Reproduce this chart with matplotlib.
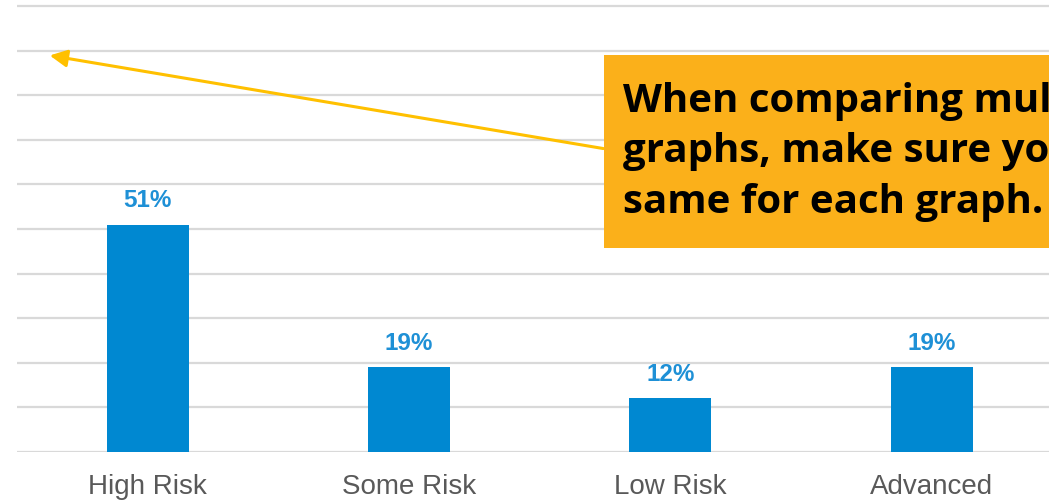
import numpy as np
import matplotlib.pyplot as plt
from matplotlib.patches import Rectangle, FancyArrowPatch

categories = ["High Risk", "Some Risk", "Low Risk", "Advanced"]
values = [51, 19, 12, 19]
note_lines = ["When comparing multiple",
              "graphs, make sure your scale is the",
              "same for each graph."]

W, H = 1049, 502
fig = plt.figure(figsize=(W / 100, H / 100), dpi=100)

# axes placed so that 0% sits on pixel row 453 and 10% steps are ~44.6 px
px_per_unit = 4.46
ymax = 102
base_px = 453
ax = fig.add_axes([17 / W, (H - base_px) / H, 1 - 17 / W, ymax * px_per_unit / H])

x = np.arange(len(categories))
ax.bar(x, values, width=0.314, color="#0088D1", zorder=3)
for xi, v in zip(x, values):
    ax.text(xi, v + 4.1, f"{v}%", ha="center", va="baseline",
            fontsize=17.5, fontweight="bold", color="#1E90D6",
            family="Liberation Sans")

ax.set_xlim(-0.5, -0.5 + (W - 17) / 261.3)
ax.set_ylim(0, ymax)
ax.set_yticks(np.arange(0, 101, 10))
ax.yaxis.grid(True, color="#D9D9D9", linewidth=1.6, zorder=0)
ax.set_yticklabels([])
ax.tick_params(axis="y", length=0)
ax.set_xticks(x)
ax.set_xticklabels(categories, fontsize=20, color="#595959", family="Liberation Sans")
ax.tick_params(axis="x", length=0, pad=15)
for s in ax.spines.values():
    s.set_visible(False)

# arrow from the note box to the top left of the chart
fig.add_artist(FancyArrowPatch(
    (606 / W, 1 - 150 / H), (47 / W, 1 - 56 / H),
    transform=fig.transFigure, arrowstyle="-|>", mutation_scale=26,
    color="#FFC000", linewidth=2.2, zorder=5))

# note box, runs off the right edge like the original slide
fig.add_artist(Rectangle((604 / W, 1 - 249 / H), 0.5, 193 / H,
                         transform=fig.transFigure, facecolor="#FBB01A",
                         edgecolor="none", zorder=6))
for i, line in enumerate(note_lines):
    fig.text(623 / W, 1 - (112 + 50.5 * i) / H, line, ha="left", va="baseline",
             fontsize=29, fontweight="bold", color="black",
             family="Open Sans", zorder=7)

fig.savefig("out.png", dpi=100)
